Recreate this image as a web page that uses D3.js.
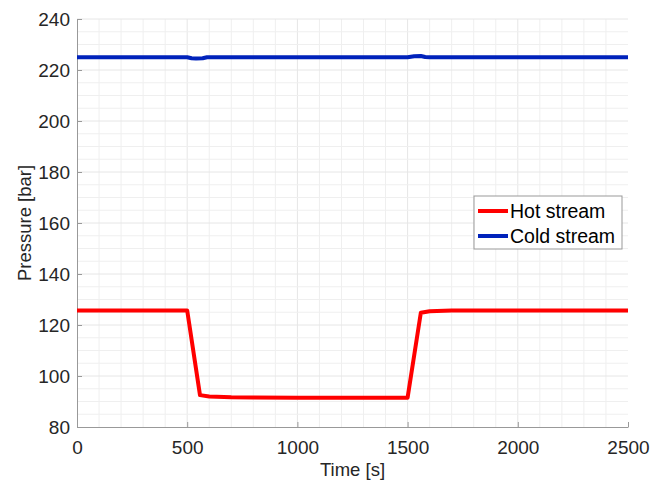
<!DOCTYPE html>
<html>
<head>
<meta charset="utf-8">
<script src="https://cdn.jsdelivr.net/npm/d3@7"></script>
<style>
  body { margin: 0; background: #fff; }
  svg { font-family: "Liberation Sans", Arial, sans-serif; }
</style>
</head>
<body>
<svg id="chart" width="654" height="483"></svg>
<script>
// time points [s] and pressures [bar]
const hotTime = [0, 500, 558, 600, 700, 800, 1000, 1200, 1500, 1560, 1600, 1700, 2000, 2500];
const hotP    = [125.7, 125.7, 92.5, 92.0, 91.7, 91.6, 91.5, 91.5, 91.5, 124.8, 125.4, 125.7, 125.7, 125.7];
const coldTime = [0, 500, 520, 540, 570, 590, 1000, 1500, 1530, 1560, 1580, 1600, 2500];
const coldP    = [225, 225, 224.6, 224.5, 224.6, 225, 225, 225, 225.4, 225.5, 225.1, 225, 225];
const xTicks = [0, 500, 1000, 1500, 2000, 2500];
const yTicks = [80, 100, 120, 140, 160, 180, 200, 220, 240];
const seriesNames = ["Hot stream", "Cold stream"];
const seriesColors = ["#ff0000", "#0022bb"];

const svg = d3.select("#chart");
const margin = { top: 19, right: 26, bottom: 56, left: 77 };
const width = 654, height = 483;

const x = d3.scaleLinear().domain([0, 2500]).range([margin.left, width - margin.right]);
const y = d3.scaleLinear().domain([80, 240]).range([height - margin.bottom, margin.top]);

// grid (minor + major)
const grid = svg.append("g").attr("class", "grid");
grid.selectAll(".vx")
  .data(d3.range(100, 2500, 100))
  .join("line")
  .attr("x1", d => x(d)).attr("x2", d => x(d))
  .attr("y1", y(80)).attr("y2", y(240))
  .attr("stroke", d => d % 500 === 0 ? "#e6e6e6" : "#efefef")
  .attr("stroke-width", 1);
grid.selectAll(".hy")
  .data(d3.range(85, 245, 5))
  .join("line")
  .attr("x1", x(0)).attr("x2", x(2500))
  .attr("y1", d => y(d)).attr("y2", d => y(d))
  .attr("stroke", d => d % 20 === 0 ? "#e6e6e6" : "#efefef")
  .attr("stroke-width", 1);

// axes
const xAxis = g => g
  .attr("transform", `translate(0,${y(80)})`)
  .call(d3.axisBottom(x).tickValues(xTicks).tickFormat(d3.format("d")).tickSizeInner(-5).tickSizeOuter(0).tickPadding(14))
  .call(g => g.select(".domain").attr("stroke", "#999"))
  .call(g => g.selectAll(".tick line").attr("stroke", "#999"))
  .call(g => g.selectAll("text").attr("fill", "#262626").style("font-size", "19px"));
const yAxis = g => g
  .attr("transform", `translate(${x(0)},0)`)
  .call(d3.axisLeft(y).tickValues(yTicks).tickFormat(d3.format("d")).tickSizeInner(-5).tickSizeOuter(0).tickPadding(7))
  .call(g => g.select(".domain").attr("stroke", "#999"))
  .call(g => g.selectAll(".tick line").attr("stroke", "#999"))
  .call(g => g.selectAll("text").attr("fill", "#262626").style("font-size", "19px"));
svg.append("g").call(xAxis);
svg.append("g").call(yAxis);

svg.append("text")
  .attr("x", (x(0) + x(2500)) / 2).attr("y", 476)
  .attr("text-anchor", "middle").attr("fill", "#262626")
  .style("font-size", "18.5px").text("Time [s]");
svg.append("text")
  .attr("transform", `translate(31,${(y(80) + y(240)) / 2}) rotate(-90)`)
  .attr("text-anchor", "middle").attr("fill", "#262626")
  .style("font-size", "18.5px").text("Pressure [bar]");

// lines
const line = d3.line().x(d => x(d[0])).y(d => y(d[1]));
const series = [
  d3.zip(hotTime, hotP),
  d3.zip(coldTime, coldP)
];
svg.selectAll(".series")
  .data(series)
  .join("path")
  .attr("class", "series")
  .attr("fill", "none")
  .attr("stroke", (d, i) => seriesColors[i])
  .attr("stroke-width", 4)
  .attr("stroke-linejoin", "round")
  .attr("d", line);

// legend
const lg = svg.append("g").attr("transform", "translate(474,196)");
lg.append("rect").attr("width", 148).attr("height", 53)
  .attr("fill", "#fff").attr("stroke", "#999").attr("stroke-width", 1);
seriesNames.forEach((name, i) => {
  const cy = 15 + i * 25;
  lg.append("line").attr("x1", 4).attr("x2", 34).attr("y1", cy).attr("y2", cy)
    .attr("stroke", seriesColors[i]).attr("stroke-width", 4);
  lg.append("text").attr("x", 36).attr("y", cy + 7)
    .attr("fill", "#000").style("font-size", "19.5px").text(name);
});
</script>
</body>
</html>
